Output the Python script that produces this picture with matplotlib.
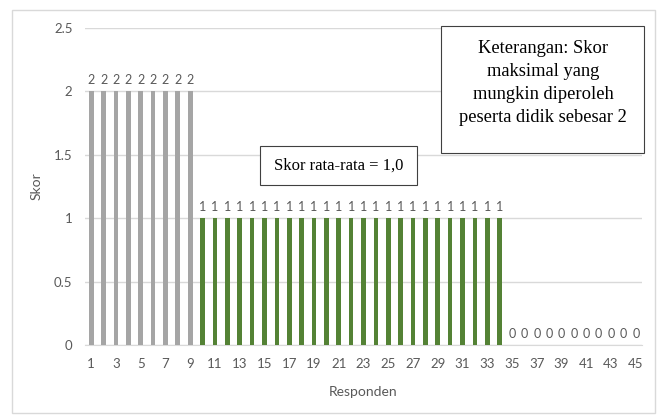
import matplotlib
matplotlib.use("Agg")
import matplotlib.pyplot as plt
from matplotlib.patches import Rectangle

responden = list(range(1, 46))
skor_2 = [2] * 9
skor_1 = [1] * 25
skor_0 = [0] * 11
skor = skor_2 + skor_1 + skor_0
colors = ["#a5a5a5"] * 9 + ["#548235"] * 25 + ["#548235"] * 11
yticks = [0, 0.5, 1, 1.5, 2, 2.5]
ytick_labels = ["0", "0.5", "1", "1.5", "2", "2.5"]

W, H = 661, 415
fig = plt.figure(figsize=(W / 100, H / 100), dpi=100)
fig.patches.append(Rectangle((12 / W, 1 - 413 / H), 643 / W, 403 / H,
                             transform=fig.transFigure, fill=False,
                             edgecolor="#d9d9d9", linewidth=1))
ax = fig.add_axes([85 / W, 1 - 345 / H, 557 / W, 317 / H])

font = "Lato"
tc = "#595959"
x = list(range(len(responden)))
ax.bar(x, skor, width=0.38, color=colors, zorder=3)
for xi, v in zip(x, skor):
    ax.text(xi, v + 0.04, str(v), ha="center", va="bottom", fontsize=9,
            color=tc, family=font)

ax.set_xlim(-0.5, len(responden) - 0.5)
ax.set_ylim(0, 2.5)
ax.set_yticks(yticks)
ax.set_yticklabels(ytick_labels, family=font, fontsize=9.5, color=tc)
ax.set_xticks(x[::2])
ax.set_xticklabels([str(r) for r in responden[::2]], family=font, fontsize=9.5, color=tc)
ax.tick_params(axis="x", length=0, pad=9)
ax.tick_params(axis="y", length=0, pad=9)
ax.grid(axis="y", color="#d9d9d9", linewidth=1, zorder=0)
for s in ["top", "right", "left"]:
    ax.spines[s].set_visible(False)
ax.spines["bottom"].set_color("#d9d9d9")
ax.set_ylabel("Skor", family=font, fontsize=10, color=tc, labelpad=8)
ax.set_xlabel("Responden", family=font, fontsize=10, color=tc, labelpad=12)

fig.text(339 / W, 1 - 165.5 / H, "Skor rata-rata = 1,0", ha="center", va="center",
         family="Liberation Serif", fontsize=12, color="black")
fig.patches.append(Rectangle((260 / W, 1 - 185 / H), 157 / W, 39 / H,
                             transform=fig.transFigure, facecolor="white",
                             edgecolor="#404040", linewidth=0.8, zorder=1))
fig.text(543 / W, 1 - 83 / H,
         "Keterangan: Skor\nmaksimal yang\nmungkin diperoleh\npeserta didik sebesar 2",
         ha="center", va="center", family="Liberation Serif", fontsize=13.3,
         color="black", linespacing=1.45)
fig.patches.append(Rectangle((441 / W, 1 - 153 / H), 203 / W, 127 / H,
                             transform=fig.transFigure, facecolor="white",
                             edgecolor="#404040", linewidth=0.8, zorder=1))

fig.savefig("out.png", dpi=100)
